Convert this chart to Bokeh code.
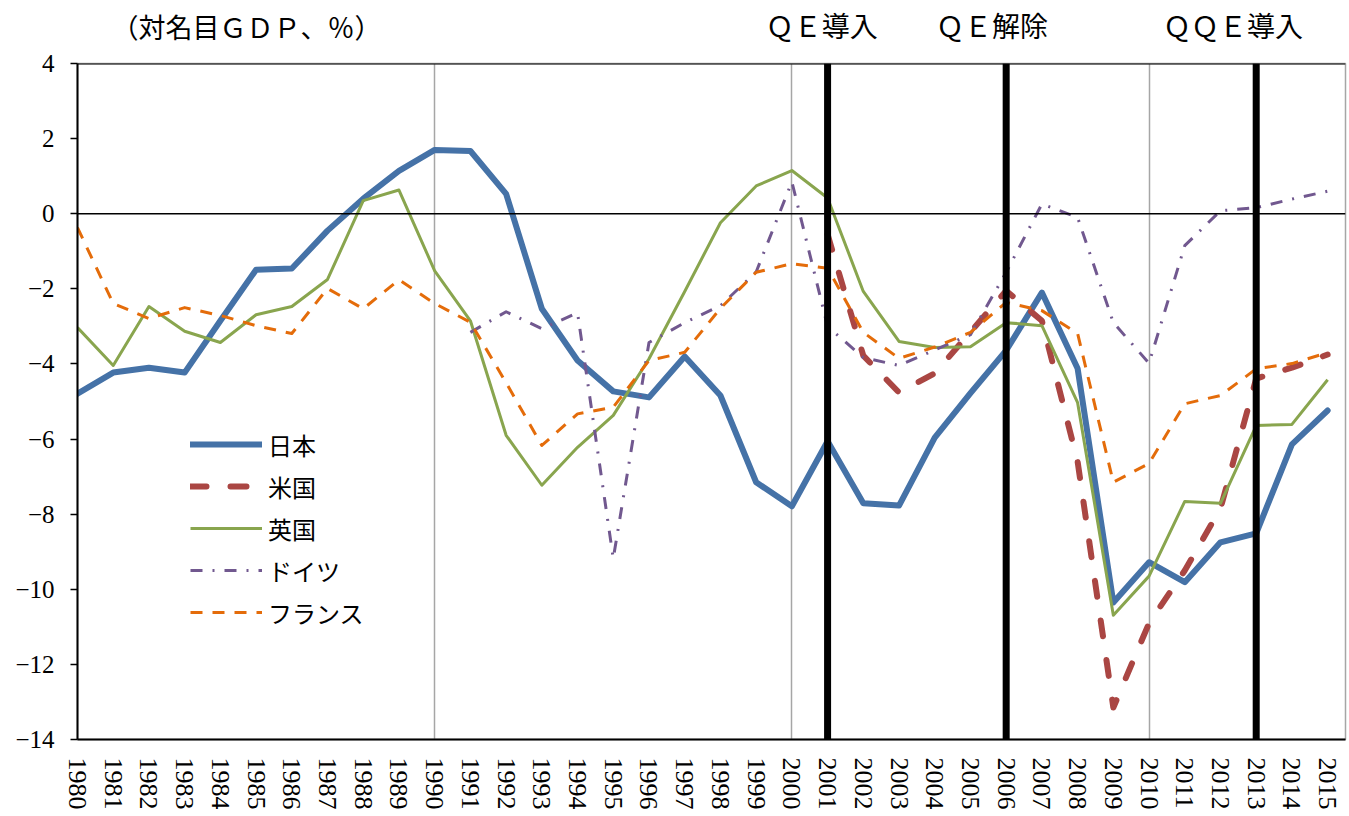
from bokeh.plotting import figure
from bokeh.layouts import column
from bokeh.models import Span, FixedTicker, Range1d, Legend, LegendItem
from bokeh.core.properties import value
from bokeh.embed import file_html
from bokeh.resources import INLINE

years = list(range(1980, 2016))
japan = [-4.79, -4.23, -4.10, -4.23, -2.85, -1.49, -1.46, -0.45, 0.40, 1.14,
         1.70, 1.67, 0.53, -2.53, -3.91, -4.73, -4.89, -3.80, -4.84, -7.15,
         -7.79, -6.06, -7.71, -7.77, -5.96, -4.78, -3.64, -2.10, -4.12, -10.35,
         -9.28, -9.81, -8.75, -8.51, -6.14, -5.24]
us_years = list(range(2001, 2016))
us = [-0.55, -3.78, -4.76, -4.25, -3.15, -2.05, -2.85, -6.6, -13.15, -10.9,
      -9.5, -7.85, -4.39, -4.1, -3.75]
uk = [-3.03, -4.04, -2.47, -3.13, -3.43, -2.69, -2.47, -1.75, 0.35, 0.63,
      -1.52, -2.85, -5.9, -7.23, -6.22, -5.37, -3.86, -2.07, -0.24, 0.74,
      1.15, 0.42, -2.07, -3.40, -3.56, -3.54, -2.90, -2.98, -5.03, -10.69,
      -9.65, -7.66, -7.71, -5.64, -5.61, -4.42]
de_years = list(range(1991, 2016))
germany = [-3.16, -2.61, -3.06, -2.64, -9.18, -3.43, -2.9, -2.45, -1.55, 0.85,
           -3.0, -3.83, -4.04, -3.63, -3.22, -1.56, 0.26, -0.1, -2.9, -3.98,
           -0.85, 0.08, 0.16, 0.39, 0.6]
france = [-0.37, -2.39, -2.79, -2.5, -2.71, -2.98, -3.19, -1.99, -2.53, -1.76,
          -2.39, -2.89, -4.5, -6.17, -5.33, -5.15, -3.91, -3.69, -2.52, -1.56,
          -1.33, -1.45, -3.16, -3.85, -3.55, -3.16, -2.36, -2.58, -3.19, -7.15,
          -6.65, -5.06, -4.84, -4.13, -3.99, -3.7]
series_names = ["日本", "米国", "英国", "ドイツ", "フランス"]
y_ticks = list(range(-14, 5, 2))
grid_years = [1990, 2000, 2010]
qe_years = [2001, 2006, 2013]
qe_labels = ["ＱＥ導入", "ＱＥ解除", "ＱＱＥ導入"]
qe_label_x = [2000.84, 2005.6, 2012.35]
unit_label = "（対名目ＧＤＰ、％）"
unit_label_x = 1980.95

JP = "Noto Sans CJK JP"
NUM = "Liberation Serif"

x_range = Range1d(1980, 2015.5)

# header strip with the annotation texts
top = figure(width=1347, height=47, x_range=x_range, y_range=Range1d(0, 47),
             output_backend="svg", toolbar_location=None,
             min_border_left=77, min_border_right=2, min_border_top=0, min_border_bottom=0)
top.axis.visible = False
top.grid.grid_line_color = None
top.outline_line_color = None
top.text(x=[unit_label_x], y=[21], text=[unit_label], text_align="left", text_baseline="middle",
         text_font=value(JP), text_font_size="27px", text_color="black")
top.text(x=qe_label_x, y=[23] * len(qe_labels), text=qe_labels, text_align="center",
         text_baseline="middle", text_font=value(JP), text_font_size="28px", text_color="black")

p = figure(width=1347, height=765, x_range=x_range, y_range=Range1d(-14, 4),
           output_backend="svg", toolbar_location=None,
           min_border_left=77, min_border_right=2, min_border_top=16, min_border_bottom=73)
p.background_fill_color = "white"
p.outline_line_color = "#a6a6a6"
p.outline_line_width = 1.5

p.xaxis.ticker = FixedTicker(ticks=years)
p.xaxis.major_label_orientation = "vertical"
p.xaxis.major_tick_out = 0
p.xaxis.major_tick_in = 0
p.xaxis.minor_tick_out = 0
p.xaxis.minor_tick_in = 0
p.xaxis.axis_line_width = 2
p.xaxis.axis_line_color = "black"
p.xaxis.major_label_standoff = 18
p.xaxis.major_label_text_font = NUM
p.xaxis.major_label_text_font_size = "26px"
p.xaxis.major_label_text_color = "black"

p.yaxis.ticker = FixedTicker(ticks=y_ticks)
p.yaxis.major_tick_out = 7
p.yaxis.major_tick_in = 0
p.yaxis.major_tick_line_width = 1.5
p.yaxis.minor_tick_out = 0
p.yaxis.minor_tick_in = 0
p.yaxis.axis_line_width = 2
p.yaxis.axis_line_color = "black"
p.yaxis.major_label_standoff = 16
p.yaxis.major_label_text_font = NUM
p.yaxis.major_label_text_font_size = "25px"
p.yaxis.major_label_text_color = "black"

p.xgrid.ticker = FixedTicker(ticks=grid_years)
p.xgrid.grid_line_color = "#a6a6a6"
p.xgrid.grid_line_width = 1.5
p.ygrid.grid_line_color = None

p.add_layout(Span(location=0, dimension="width", line_color="black", line_width=1.5))
p.add_layout(Span(location=4, dimension="width", line_color="black", line_width=2))
for xq in qe_years:
    p.add_layout(Span(location=xq, dimension="height", line_color="black", line_width=7))

r_jp = p.line(years, japan, line_color="#4572A7", line_width=6, line_join="round", line_cap="round")
r_us = p.line(us_years, us, line_color="#AA4643", line_width=6, line_join="round", line_cap="round",
              line_dash="16 24")
r_uk = p.line(years, uk, line_color="#89A54E", line_width=3, line_join="round")
r_de = p.line(de_years, germany, line_color="#71588F", line_width=3, line_join="round",
              line_dash="12 10 2 10")
r_fr = p.line(years, france, line_color="#E46C0A", line_width=3, line_join="round",
              line_dash="12 10")

legend = Legend(items=[LegendItem(label=n, renderers=[r]) for n, r in
                       zip(series_names, [r_jp, r_us, r_uk, r_de, r_fr])],
                location=(113, 106), padding=0, margin=0, spacing=0,
                glyph_width=72, glyph_height=42, label_height=42, label_standoff=6,
                label_text_font=JP, label_text_font_size="24px", label_text_color="black",
                background_fill_alpha=0, border_line_color=None)
p.add_layout(legend)

layout = column(top, p, spacing=0)
open("out.html", "w").write(file_html(layout, INLINE))
